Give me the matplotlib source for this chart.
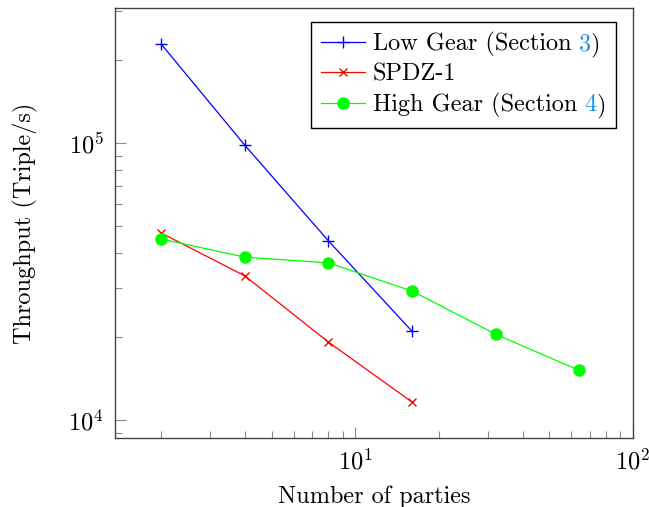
import matplotlib
matplotlib.use('Agg')
import matplotlib.pyplot as plt
from matplotlib.offsetbox import TextArea, HPacker

plt.rcParams['font.family'] = 'cmr10'
plt.rcParams['mathtext.fontset'] = 'cm'
plt.rcParams['axes.formatter.use_mathtext'] = True

# data (log-log)
parties_low = [2, 4, 8, 16]
low_gear = [227000, 98000, 44300, 20900]

parties_spdz = [2, 4, 8, 16]
spdz1 = [47300, 33100, 19100, 11600]

parties_high = [2, 4, 8, 16, 32, 64]
high_gear = [45000, 38700, 36900, 29200, 20400, 15100]

link_blue = '#1e90e6'
fs = 17.5

fig = plt.figure(figsize=(6.49, 5.07), dpi=100)
ax = fig.add_axes([115 / 649, 1 - 438 / 507, 518 / 649, 430 / 507])

ax.plot(parties_low, low_gear, color='blue', marker='+', markersize=8,
        markeredgewidth=1.0, linewidth=0.9, label='Low Gear (Section')
ax.plot(parties_spdz, spdz1, color='red', marker='x', markersize=5.5,
        markeredgewidth=1.0, linewidth=0.9, label='SPDZ-1')
ax.plot(parties_high, high_gear, color=(0, 1, 0), marker='o', markersize=8,
        linewidth=0.9, label='High Gear (Section')

ax.set_xscale('log')
ax.set_yscale('log')
ax.set_xlim(10 ** 0.134, 100)
ax.set_ylim(10 ** 3.935, 10 ** 5.487)

ax.set_xlabel('Number of parties', fontsize=fs, labelpad=8)
ax.set_ylabel('Throughput (Triple/s)', fontsize=fs, labelpad=22)

ax.tick_params(which='both', direction='in', color='#8a8a8a', width=0.8,
               labelsize=fs, pad=8)
ax.tick_params(which='major', length=8)
ax.tick_params(which='minor', length=5)
for s in ax.spines.values():
    s.set_color('#444444')
    s.set_linewidth(1.0)

leg = ax.legend(loc='upper right', bbox_to_anchor=(0.967, 0.967),
                borderaxespad=0, fontsize=fs, fancybox=False, framealpha=1,
                edgecolor='black', handlelength=1.85, handletextpad=0.3,
                labelspacing=0.28, borderpad=0.4, numpoints=1)
leg.get_frame().set_linewidth(1.0)

# section numbers coloured like hyperlinks: extra text boxes in the legend rows
rows = leg._legend_handle_box.get_children()[0].get_children()
for row, num in [(rows[0], '3'), (rows[2], '4')]:
    tail = HPacker(children=[TextArea(num, textprops=dict(color=link_blue, fontsize=fs,
                                                          family='cmr10')),
                             TextArea(')', textprops=dict(fontsize=fs, family='cmr10'))],
                   pad=0, sep=0, align='baseline')
    tail.set_figure(fig)
    row._children.append(tail)

plt.savefig('out.png', dpi=100)
